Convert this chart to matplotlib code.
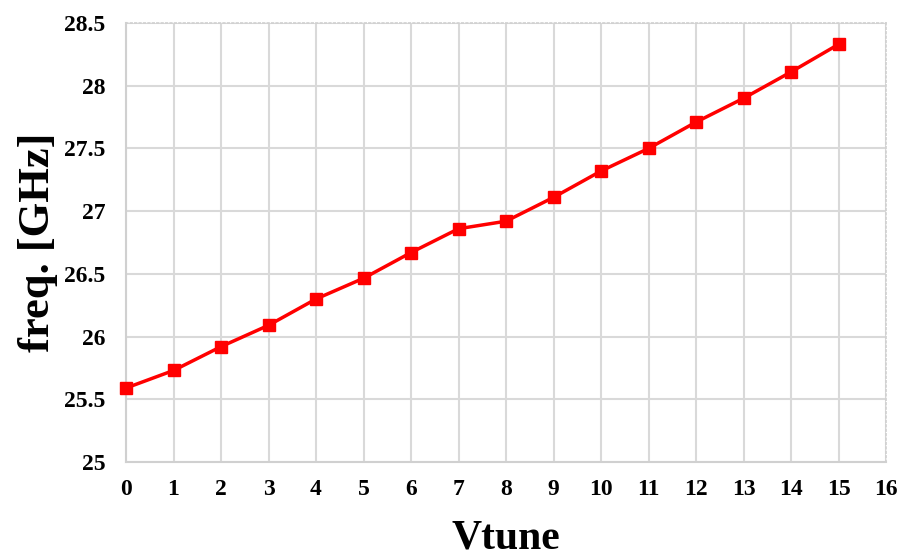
import numpy as np
import matplotlib.pyplot as plt

plt.rcParams['font.family'] = ['Liberation Serif', 'DejaVu Serif']
plt.rcParams['font.weight'] = 'bold'

vtune = [0, 1, 2, 3, 4, 5, 6, 7, 8, 9, 10, 11, 12, 13, 14, 15]
freq = [25.59, 25.73, 25.92, 26.09, 26.30, 26.465, 26.67, 26.86, 26.92,
        27.11, 27.32, 27.50, 27.71, 27.90, 28.11, 28.33]
xticks = list(range(0, 17))
yticks = [25, 25.5, 26, 26.5, 27, 27.5, 28, 28.5]
ytick_labels = ['25', '25.5', '26', '26.5', '27', '27.5', '28', '28.5']

fig = plt.figure(figsize=(9.02, 5.56), dpi=100)
ax = fig.add_axes([0.1397, 0.169, 0.8426, 0.7896])

ax.plot(vtune, freq, color='#ff0000', linewidth=2.5, marker='s',
        markersize=8, zorder=3, clip_on=False)

ax.set_xlim(0, 16)
ax.set_ylim(25, 28.5)
ax.set_xticks(xticks)
ax.set_yticks(yticks)
ax.set_yticklabels(ytick_labels)
ax.grid(True, color='#d9d9d9', linewidth=1.5)
ax.set_axisbelow(True)

for side in ['left', 'bottom']:
    ax.spines[side].set_color('#d0d0d0')
    ax.spines[side].set_linewidth(1.5)
for side in ['top', 'right']:
    ax.spines[side].set_color('#d0d0d0')
    ax.spines[side].set_linewidth(1.2)
    ax.spines[side].set_linestyle(':')

ax.tick_params(axis='both', length=0, labelsize=17)
ax.tick_params(axis='x', pad=12)
ax.tick_params(axis='y', pad=15)

ax.set_xlabel('Vtune', fontsize=30, fontweight='bold', labelpad=14)
ax.set_ylabel('freq. [GHz]', fontsize=32, fontweight='bold', labelpad=4)

fig.savefig('out.png', dpi=100)
